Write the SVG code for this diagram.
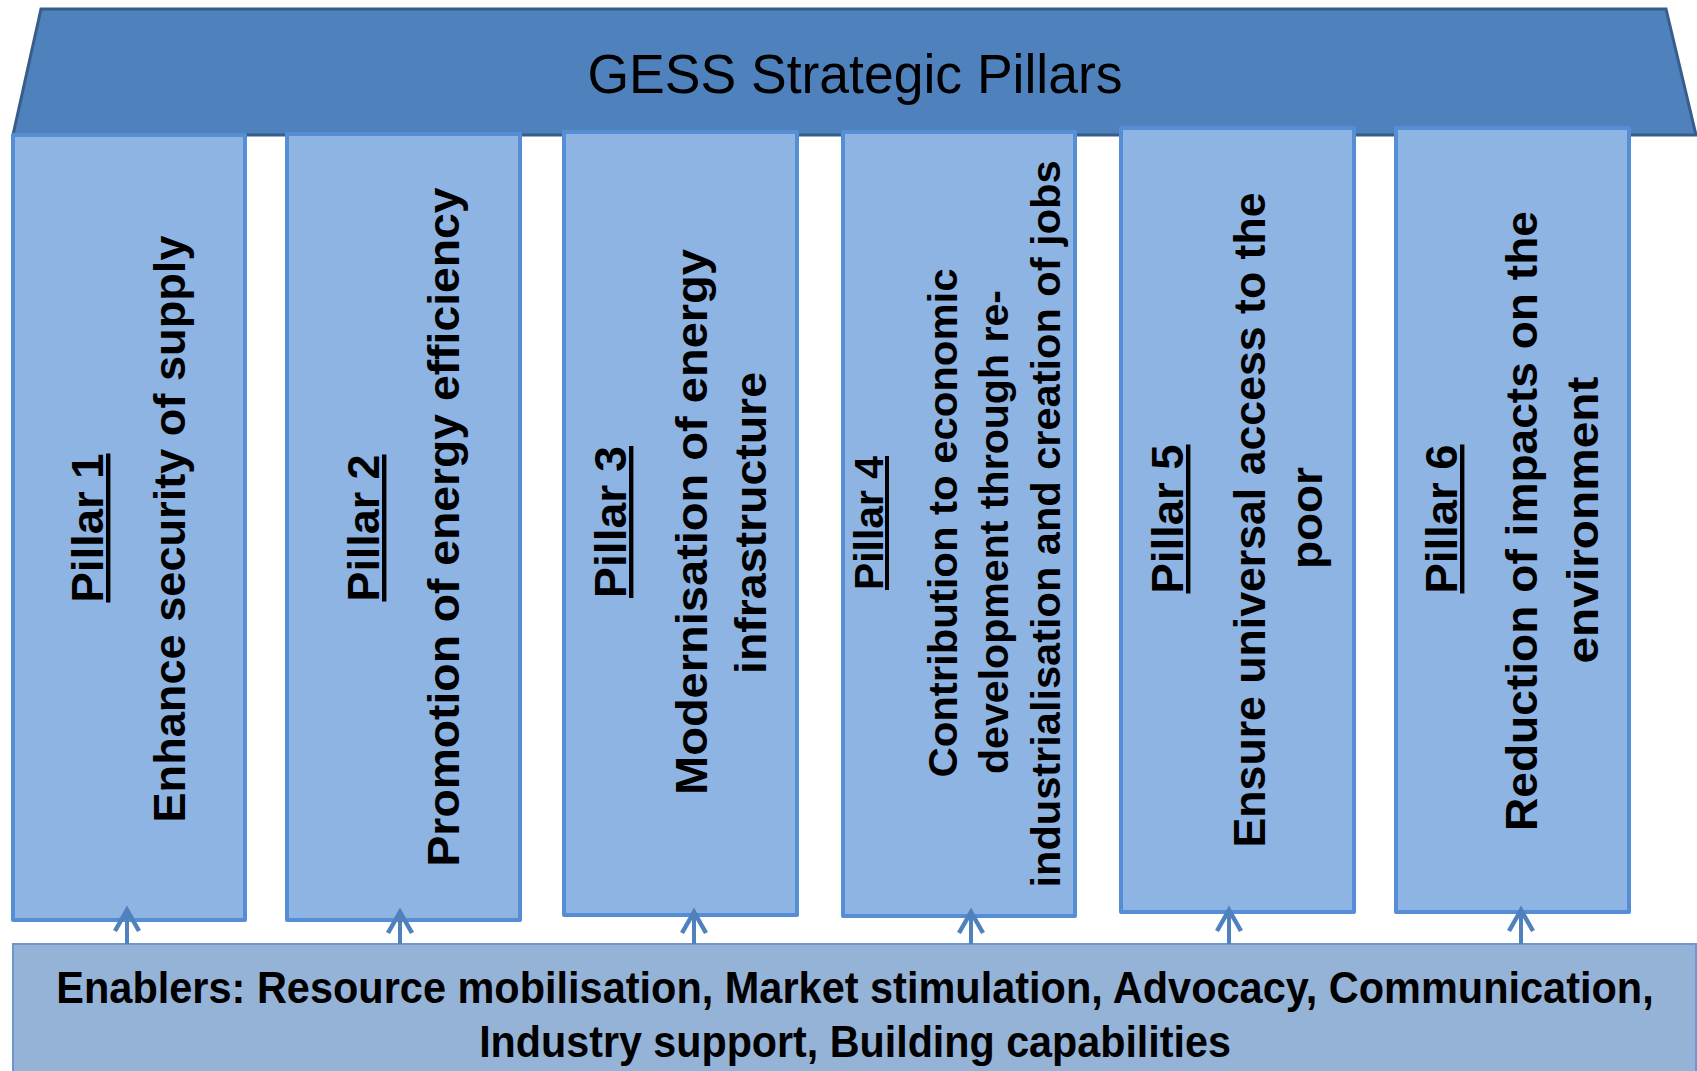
<svg xmlns="http://www.w3.org/2000/svg" width="1697" height="1071" viewBox="0 0 1697 1071">
  <defs>
    <style>
      .roof { fill: #4f81bd; stroke: #385d8a; stroke-width: 3; stroke-linejoin: miter; }
      .pillar { fill: #8eb4e3; stroke: #558ed5; stroke-width: 4; stroke-linejoin: round; }
      .enab { fill: #95b3d7; stroke: #6e97cc; stroke-width: 2; }
      .title { font-family: "Liberation Sans", Arial, sans-serif; font-size: 56px; fill: #000; text-anchor: middle; }
      .t { font-family: "Liberation Sans", Arial, sans-serif; font-weight: bold; font-size: 44px; fill: #000; text-anchor: middle; }
      .t4 { font-family: "Liberation Sans", Arial, sans-serif; font-weight: bold; font-size: 40px; fill: #000; text-anchor: middle; }
      .lbl { text-decoration: underline; }
      .en { font-family: "Liberation Sans", Arial, sans-serif; font-weight: bold; font-size: 44px; fill: #000; text-anchor: middle; }
      .conn { stroke: #4f81bd; stroke-width: 4; fill: none; }
    </style>
    <marker id="arr" markerUnits="userSpaceOnUse" viewBox="-26 -16 32 32" markerWidth="32" markerHeight="32" refX="0" refY="0" orient="auto">
      <path d="M -21 -12 L 0 0 L -21 12" fill="none" stroke="#4f81bd" stroke-width="4.5" stroke-linejoin="miter"/>
    </marker>
  </defs>

  <g id="roof">
    <polygon class="roof" points="41,9 1666,9 1696,135 13,135"/>
    <text class="title" x="855" y="93" textLength="535" lengthAdjust="spacingAndGlyphs">GESS Strategic Pillars</text>
  </g>

  <g id="enablers">
    <rect class="enab" x="13" y="944" width="1683" height="130"/>
    <text class="en" transform="translate(855,1003) scale(0.87,1)" textLength="1836" lengthAdjust="spacingAndGlyphs">Enablers: Resource mobilisation, Market stimulation, Advocacy, Communication,</text>
    <text class="en" transform="translate(855,1057) scale(0.87,1)" textLength="864" lengthAdjust="spacingAndGlyphs">Industry support, Building capabilities</text>
  </g>

  <g id="pillar1">
    <rect class="pillar" x="13" y="135" width="232" height="785"/>
    <text class="t lbl" transform="translate(103,528) rotate(-90)" textLength="149" lengthAdjust="spacingAndGlyphs">Pillar 1</text>
    <text class="t" transform="translate(185,529) rotate(-90)" textLength="587" lengthAdjust="spacingAndGlyphs">Enhance security of supply</text>
  </g>

  <g id="pillar2">
    <rect class="pillar" x="287" y="134" width="233" height="786"/>
    <text class="t lbl" transform="translate(379,528) rotate(-90)" textLength="147" lengthAdjust="spacingAndGlyphs">Pillar 2</text>
    <text class="t" transform="translate(459,527) rotate(-90)" textLength="679" lengthAdjust="spacingAndGlyphs">Promotion of energy efficiency</text>
  </g>

  <g id="pillar3">
    <rect class="pillar" x="564" y="132" width="233" height="783"/>
    <text class="t lbl" transform="translate(626,522) rotate(-90)" textLength="152" lengthAdjust="spacingAndGlyphs">Pillar 3</text>
    <text class="t" transform="translate(707,522) rotate(-90)" textLength="546" lengthAdjust="spacingAndGlyphs">Modernisation of energy</text>
    <text class="t" transform="translate(766,523) rotate(-90)" textLength="302" lengthAdjust="spacingAndGlyphs">infrastructure</text>
  </g>

  <g id="pillar4">
    <rect class="pillar" x="843" y="132" width="232" height="784"/>
    <text class="t4 lbl" transform="translate(883,523) rotate(-90)" textLength="134" lengthAdjust="spacingAndGlyphs">Pillar 4</text>
    <text class="t4" transform="translate(957,523) rotate(-90)" textLength="509" lengthAdjust="spacingAndGlyphs">Contribution to economic</text>
    <text class="t4" transform="translate(1008,532) rotate(-90)" textLength="484" lengthAdjust="spacingAndGlyphs">development through re-</text>
    <text class="t4" transform="translate(1060,524) rotate(-90)" textLength="727" lengthAdjust="spacingAndGlyphs">industrialisation and creation of jobs</text>
  </g>

  <g id="pillar5">
    <rect class="pillar" x="1121" y="128" width="233" height="784"/>
    <text class="t lbl" transform="translate(1183,519) rotate(-90)" textLength="149" lengthAdjust="spacingAndGlyphs">Pillar 5</text>
    <text class="t" transform="translate(1265,520) rotate(-90)" textLength="655" lengthAdjust="spacingAndGlyphs">Ensure universal access to the</text>
    <text class="t" transform="translate(1322,518) rotate(-90)" textLength="102" lengthAdjust="spacingAndGlyphs">poor</text>
  </g>

  <g id="pillar6">
    <rect class="pillar" x="1396" y="128" width="233" height="784"/>
    <text class="t lbl" transform="translate(1457,519) rotate(-90)" textLength="149" lengthAdjust="spacingAndGlyphs">Pillar 6</text>
    <text class="t" transform="translate(1537,521) rotate(-90)" textLength="620" lengthAdjust="spacingAndGlyphs">Reduction of impacts on the</text>
    <text class="t" transform="translate(1598,520) rotate(-90)" textLength="287" lengthAdjust="spacingAndGlyphs">environment</text>
  </g>

  <g id="connectors">
    <line class="conn" x1="127" y1="944" x2="127" y2="910" marker-end="url(#arr)"/>
    <line class="conn" x1="400" y1="944" x2="400" y2="912" marker-end="url(#arr)"/>
    <line class="conn" x1="694" y1="944" x2="694" y2="912" marker-end="url(#arr)"/>
    <line class="conn" x1="971" y1="944" x2="971" y2="912" marker-end="url(#arr)"/>
    <line class="conn" x1="1229" y1="944" x2="1229" y2="910" marker-end="url(#arr)"/>
    <line class="conn" x1="1521" y1="944" x2="1521" y2="910" marker-end="url(#arr)"/>
  </g>
</svg>
